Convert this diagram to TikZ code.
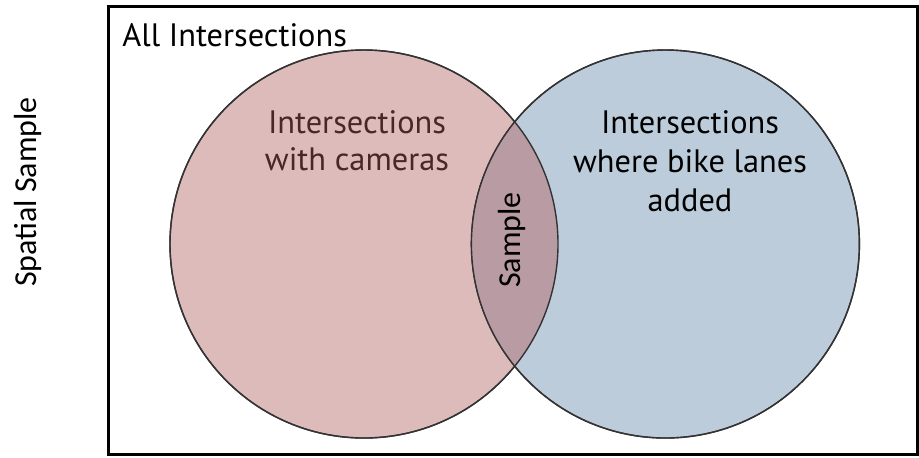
\documentclass[tikz,border=0pt]{standalone}
\usepackage{fontspec}
\setmainfont{PT Sans}
\newfontfamily\calibfont{Carlito}
\usetikzlibrary{positioning}

\definecolor{camfill}{RGB}{222,187,187}
\definecolor{bikefill}{RGB}{189,204,219}
\definecolor{bothfill}{RGB}{185,155,163}
\definecolor{camtext}{RGB}{74,38,38}

\tikzstyle{set} = [circle, minimum size=194pt, inner sep=0pt, draw=black!80, line width=0.7pt]
\tikzstyle{rim} = [draw=black!80, line width=0.7pt]
\tikzstyle{setlabel} = [align=center, font=\fontsize{16.2}{18.5}\selectfont]
\tikzstyle{sidelabel} = [rotate=90, font=\calibfont\fontsize{16}{19}\selectfont]

\begin{document}
\begin{tikzpicture}[x=0.5pt, y=-0.5pt]
   \useasboundingbox (0,0) rectangle (919,457);
   \node (all) [draw, line width=1.5pt, minimum width=404.5pt, minimum height=224pt, inner sep=0pt] at (512.5,230) {};
   \node (cams) [set, fill=camfill] at (364,244) {};
   \node (bikes) [set, fill=bikefill, right=-44pt of cams] {};
   % overlap of the two sets
   \begin{scope}
      \clip (cams.center) circle (97pt);
      \fill [bothfill] (bikes.center) circle (97pt);
   \end{scope}
   \draw [rim] (cams.center) circle (97pt);
   \draw [rim] (bikes.center) circle (97pt);

   \node (alltext) [anchor=base west, inner sep=0pt, font=\fontsize{16.2}{18.5}\selectfont] at (122,46) {All Intersections};
   \node (camtext) [setlabel, text=camtext] at (357,141) {Intersections\\with cameras};
   \node (biketext) [setlabel, font=\fontsize{16.2}{19.5}\selectfont] at (690,161) {Intersections\\where bike lanes\\added};
   \node (sample) [sidelabel] at (512,240) {Sample};
   \node (spatial) [sidelabel] at (28,192) {Spatial Sample};
\end{tikzpicture}
\end{document}
